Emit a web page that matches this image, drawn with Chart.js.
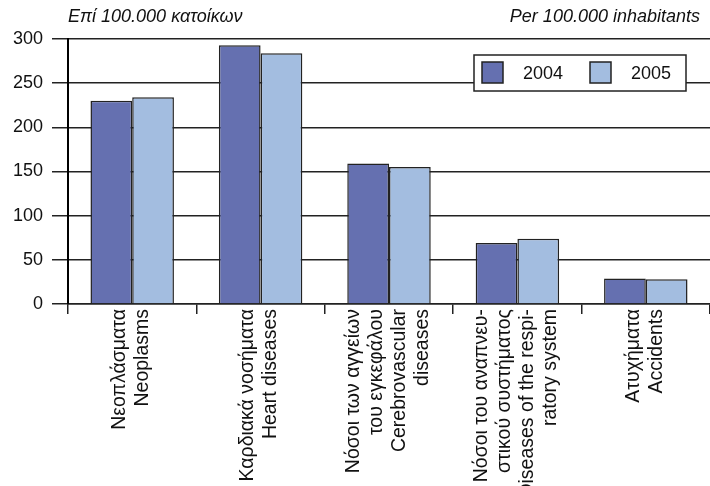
<!DOCTYPE html>
<html>
<head>
<meta charset="utf-8">
<script src="https://cdn.jsdelivr.net/npm/chart.js@4.4.1/dist/chart.umd.min.js"></script>
<style>
  html, body { margin: 0; padding: 0; background: #fff; }
  #wrap { width: 710px; height: 486px; }
</style>
</head>
<body>
<div id="wrap"><canvas id="deathsChart" width="710" height="486"></canvas></div>
<script>
var categories = [
  ["Νεοπλάσματα", "Neoplasms"],
  ["Καρδιακά νοσήματα", "Heart diseases"],
  ["Νόσοι των αγγείων", "του εγκεφάλου", "Cerebrovascular", "diseases"],
  ["Νόσοι του αναπνευ-", "στικού συστήματος", "Diseases of the respi-", "ratory system"],
  ["Ατυχήματα", "Accidents"]
];
var years = ["2004", "2005"];
var values2004 = [230, 293, 159, 69, 29];
var values2005 = [234, 284, 155, 74, 28];
var yTicks = [0, 50, 100, 150, 200, 250, 300];

var FONT = "'Liberation Sans', Arial, Helvetica, sans-serif";
var LINE = '#222222';

// header texts (Greek left, English right)
var headerPlugin = {
  id: 'header',
  afterDraw: function(chart) {
    var c = chart.ctx, area = chart.chartArea;
    c.save();
    c.fillStyle = '#111';
    c.font = 'italic 18px ' + FONT;
    c.textBaseline = 'middle';
    c.textAlign = 'left';
    c.fillText('Επί 100.000 κατοίκων', area.left, 17);
    c.textAlign = 'right';
    c.fillText('Per 100.000 inhabitants', chart.width - 10, 17);
    c.restore();
  }
};

// rotated multi-line labels: centre the block of lines on the tick
// (chart.js puts the first line on the tick and stacks the rest to the right)
var centerLabels = {
  id: 'centerLabels',
  beforeDraw: function(chart) {
    var sc = chart.scales.x;
    var items = sc.getLabelItems(chart.chartArea);
    items.forEach(function(it) {
      var n = Array.isArray(it.label) ? it.label.length : 1;
      var lh = it.font.lineHeight;
      it.textOffset = lh / 2 - (n - 1) * lh / 2 - 1;
    });
  }
};

// boxed legend inside the plot, covers the gridline behind it
var boxLegend = {
  id: 'boxLegend',
  afterDraw: function(chart) {
    var c = chart.ctx, area = chart.chartArea;
    var w = 212, h = 36;
    var x = area.right - 24 - w, y = area.top + 16;
    c.save();
    c.fillStyle = '#fff';
    c.fillRect(x, y, w, h);
    c.strokeStyle = LINE;
    c.lineWidth = 1.5;
    c.strokeRect(x, y, w, h);
    c.font = '18px ' + FONT;
    c.textBaseline = 'middle';
    c.textAlign = 'left';
    chart.data.datasets.forEach(function(ds, i) {
      var sx = x + 8 + i * 108;
      c.fillStyle = ds.backgroundColor;
      c.fillRect(sx, y + 7, 21, 21);
      c.strokeRect(sx, y + 7, 21, 21);
      c.fillStyle = '#111';
      c.fillText(ds.label, sx + 41, y + h / 2 + 1);
    });
    c.restore();
  }
};

var ctx = document.getElementById("deathsChart");
var deathsChart = new Chart(ctx, {
  type: 'bar',
  data: {
    labels: categories,
    datasets: [
      {
        label: years[0],
        data: values2004,
        backgroundColor: 'rgba(101, 112, 176, 1)',
        borderColor: LINE,
        borderWidth: 1.5,
        categoryPercentage: 0.65,
        barPercentage: 1.0
      },
      {
        label: years[1],
        data: values2005,
        backgroundColor: 'rgba(163, 189, 224, 1)',
        borderColor: LINE,
        borderWidth: 1.5,
        categoryPercentage: 0.65,
        barPercentage: 1.0
      }
    ]
  },
  options: {
    responsive: false,
    animation: false,
    layout: { padding: { top: 39, right: 0, left: 0, bottom: 0 } },
    plugins: {
      legend: { display: false },
      tooltip: { enabled: false }
    },
    scales: {
      x: {
        afterFit: function(scale) { scale.height = 182; },
        grid: {
          offset: true,
          drawOnChartArea: false,
          drawTicks: true,
          tickLength: 10,
          color: LINE,
          lineWidth: 1.5
        },
        border: { display: true, color: LINE, width: 1.5 },
        ticks: {
          minRotation: 90,
          maxRotation: 90,
          autoSkip: false,
          padding: -5,
          color: '#111',
          font: { family: FONT, size: 19.5, lineHeight: 1.18 }
        }
      },
      y: {
        min: 0,
        max: 300,
        afterFit: function(scale) { scale.width = 68; },
        afterBuildTicks: function(scale) {
          scale.ticks = yTicks.map(function(v) { return { value: v }; });
        },
        grid: {
          color: LINE,
          lineWidth: 1.5,
          tickLength: 16
        },
        border: { display: true, color: '#000', width: 2 },
        ticks: {
          padding: 9,
          color: '#111',
          font: { family: FONT, size: 18 }
        }
      }
    }
  },
  plugins: [headerPlugin, centerLabels, boxLegend]
});
</script>
</body>
</html>
